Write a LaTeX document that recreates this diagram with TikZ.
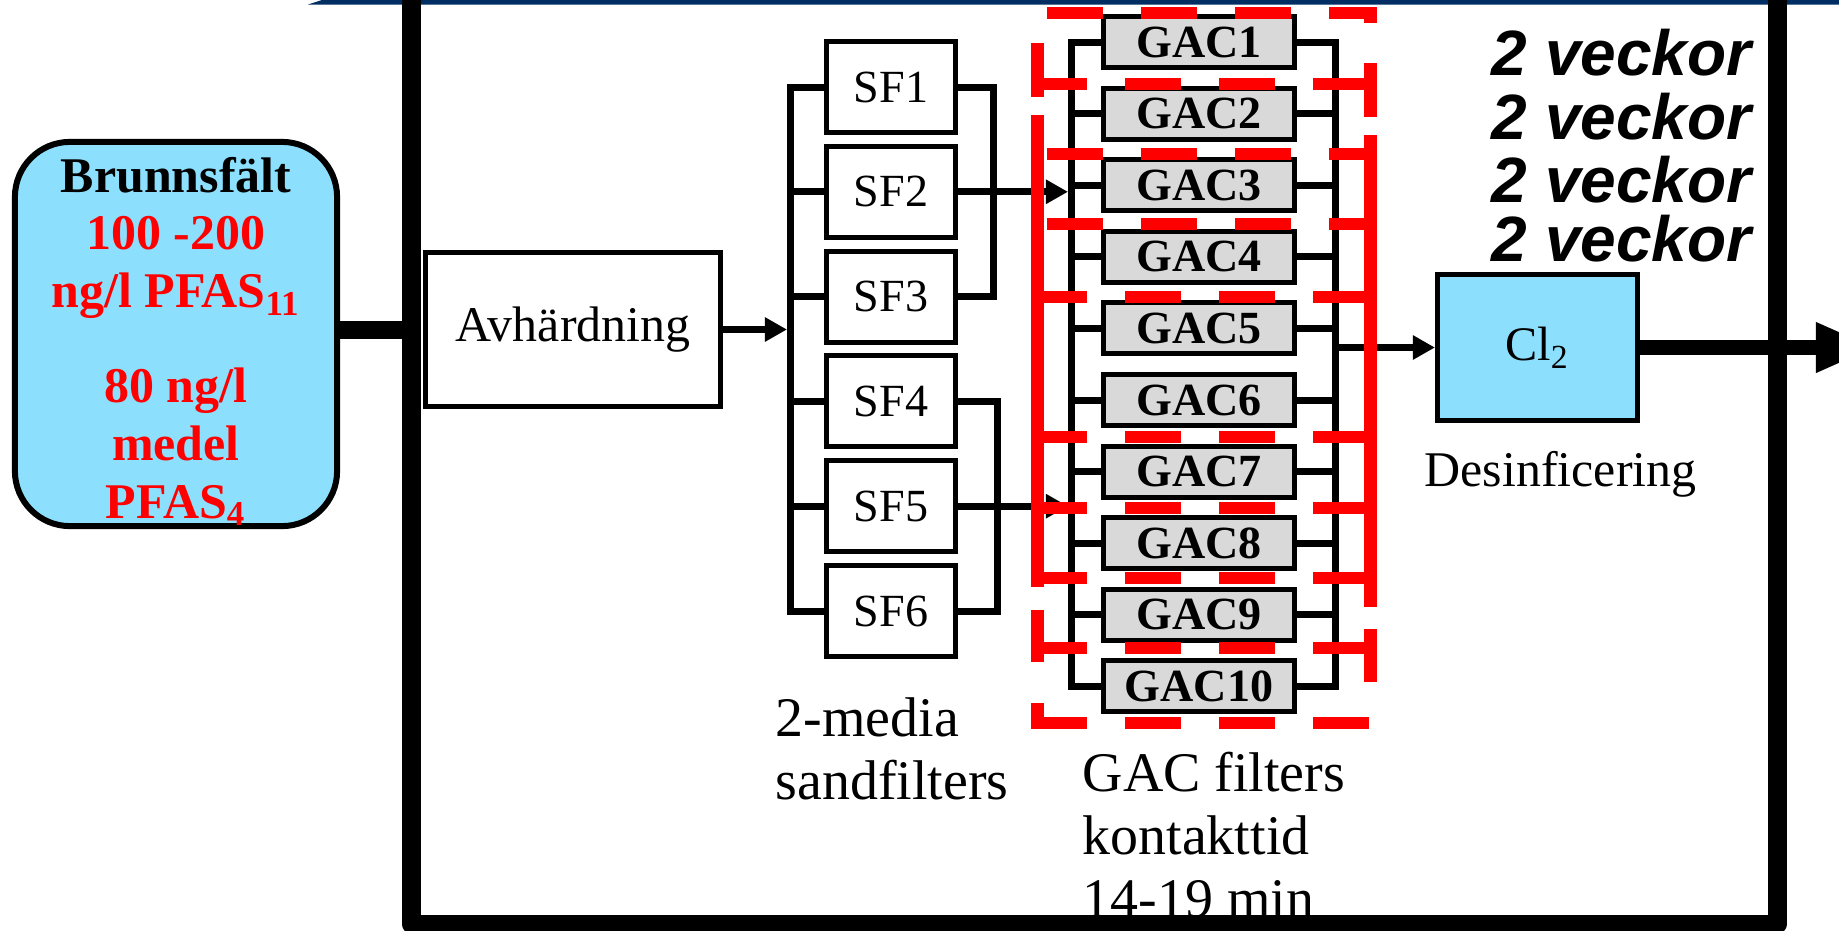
\documentclass[tikz,border=0pt]{standalone}
\usepackage{fontspec}
\setmainfont{Liberation Serif}
\newfontfamily\arialfont{Liberation Sans}
\usetikzlibrary{arrows.meta}
\definecolor{wellblue}{RGB}{140,223,253}
\definecolor{gacgrey}{RGB}{217,217,217}
\definecolor{dashred}{RGB}{255,0,0}
\definecolor{headnavy}{RGB}{0,45,98}

\tikzset{
  sfbox/.style={draw, line width=0.05cm, minimum width=1.29cm, minimum height=0.91cm, inner sep=0pt, font=\fontsize{13.1}{15}\selectfont},
  gacbox/.style={draw, fill=gacgrey, line width=0.05cm, minimum width=1.91cm, minimum height=0.51cm, inner sep=0pt, font=\bfseries\fontsize{13.1}{15}\selectfont},
  pipe/.style={line width=0.07cm},
  flow/.style={pipe, -{Triangle[length=0.22cm, width=0.23cm]}},
  groupline/.style={dashred, line width=0.12cm, dash pattern=on 0.56cm off 0.38cm},
  groupedge/.style={dashred, line width=0.13cm},
  plainlbl/.style={inner sep=0pt, align=left, font=\fontsize{15.9}{17.9}\selectfont},
  weektext/.style={inner sep=0pt, font=\arialfont\bfseries\itshape\fontsize{18.2}{20}\selectfont},
}

\begin{document}
\begin{tikzpicture}[x=0.01cm, y=-0.01cm]
\useasboundingbox (0,0) rectangle (1839,930);
\clip (0,0) rectangle (1839,930);
% header strip
\fill[headnavy] (308,4.5) -- (322,0) -- (1839,0) -- (1839,4.5) -- cycle;

% well field
\node[draw, fill=wellblue, line width=0.06cm, rounded corners=0.55cm, minimum width=3.22cm, minimum height=3.84cm, inner sep=0pt, align=center, font=\bfseries\fontsize{14.2}{16.4}\selectfont] (well) at (176,334)
  {\rule{0pt}{0.50cm}Brunnsfält\\ \textcolor{red}{100 -200}\\ \textcolor{red}{ng/l PFAS\textsubscript{11}}\\[10.7pt]
   \textcolor{red}{80 ng/l}\\ \textcolor{red}{medel}\\ \textcolor{red}{PFAS\textsubscript{4}}};

% softening
\node[draw, line width=0.05cm, minimum width=2.95cm, minimum height=1.54cm, inner sep=0pt, font=\fontsize{14.2}{16}\selectfont] (avh) at (573,329.5) {Avhärdning};

% sand filters
\foreach \i in {1,...,6}
  \node[sfbox] (sf\i) at (891,{87+104.8*(\i-1)}) {SF\i};

% GAC filters
\foreach \i in {1,...,10}
  \node[gacbox] (gac\i) at (1199,{42+71.6*(\i-1)}) {GAC\i};

% disinfection
\node[draw, fill=wellblue, line width=0.05cm, minimum width=2.00cm, minimum height=1.46cm, inner sep=0pt, font=\fontsize{13.7}{16}\selectfont] (cl) at (1537.5,347.5) {Cl\textsubscript{2}};
\node[inner sep=0pt, anchor=base west, font=\fontsize{14.2}{16}\selectfont] (desinf) at (1424,486) {Desinficering};

% labels
\node[plainlbl, anchor=base west] (sflbl) at (775,799) {2-media\\sandfilters};
\node[plainlbl, anchor=base west] (gaclbl) at (1082,917) {GAC filters\\kontakttid\\14-19 min};
\foreach \y [count=\i] in {75,139,202,261}
  \node[weektext, anchor=base west] (wk\i) at (1491,\y) {2 veckor};

% bus lines
\coordinate (sfin) at (790,0);
\coordinate (sfoutA) at (993,0);
\coordinate (sfoutB) at (997,0);
\coordinate (gacin) at (1071,0);
\coordinate (gacout) at (1335,0);

\draw[flow, shorten >=0.03cm] (avh.east) -- (avh.east -| sfin);
\draw[pipe] (sf1.west) -- (sf1.west -| sfin) -- (sf6.west -| sfin) -- (sf6.west);
\foreach \i in {2,...,5}
  \draw[pipe] (sf\i.west) -- (sf\i.west -| sfin);
\draw[pipe] (sf1.east) -- (sf1.east -| sfoutA) -- (sf3.east -| sfoutA) -- (sf3.east);
\draw[pipe] (sf4.east) -- (sf4.east -| sfoutB) -- (sf6.east -| sfoutB) -- (sf6.east);
\draw[flow, shorten >=0.03cm] (sf2.east) -- (sf2.east -| gacin);
\draw[flow, shorten >=0.03cm] (sf5.east) -- (sf5.east -| gacin);

\draw[pipe] (gac1.west) -- (gac1.west -| gacin) -- (gac10.west -| gacin) -- (gac10.west);
\draw[pipe] (gac1.east) -- (gac1.east -| gacout) -- (gac10.east -| gacout) -- (gac10.east);
\foreach \i in {2,...,9} {
  \draw[pipe] (gac\i.west) -- (gac\i.west -| gacin);
  \draw[pipe] (gac\i.east) -- (gac\i.east -| gacout);
}
\draw[flow] (cl.west -| gacout) -- (cl.west);

% main flow in and out
\coordinate (framein) at (411.5,330);
\coordinate (outtip) at (1876,347.5);
\draw[line width=0.18cm] (well.east |- framein) -- (framein);
\draw[line width=0.15cm, -{Triangle[length=0.6cm, width=0.46cm]}] (cl.east) -- (outtip);

% plant frame
\draw[line width=0.19cm, line join=round] (411.5,-20) -- (411.5,924) -- (1777,924) -- (1777,-20);

% filter groups (red dashed marking)
\foreach \y in {13,154,224}
  \draw[groupline] (1047,\y) -- (1377,\y);
\foreach \y in {84,297,437,508,578,648,723}
  \draw[groupline] (1031,\y) -- (1377,\y);
\foreach \a/\b in {43/97, 115/587, 610/662, 703/729}
  \draw[groupedge] (1037,\a) -- (1037,\b);
\foreach \a/\b in {7/23, 63/117, 135/607, 629/682}
  \draw[groupedge] (1370,\a) -- (1370,\b);
\end{tikzpicture}
\end{document}
